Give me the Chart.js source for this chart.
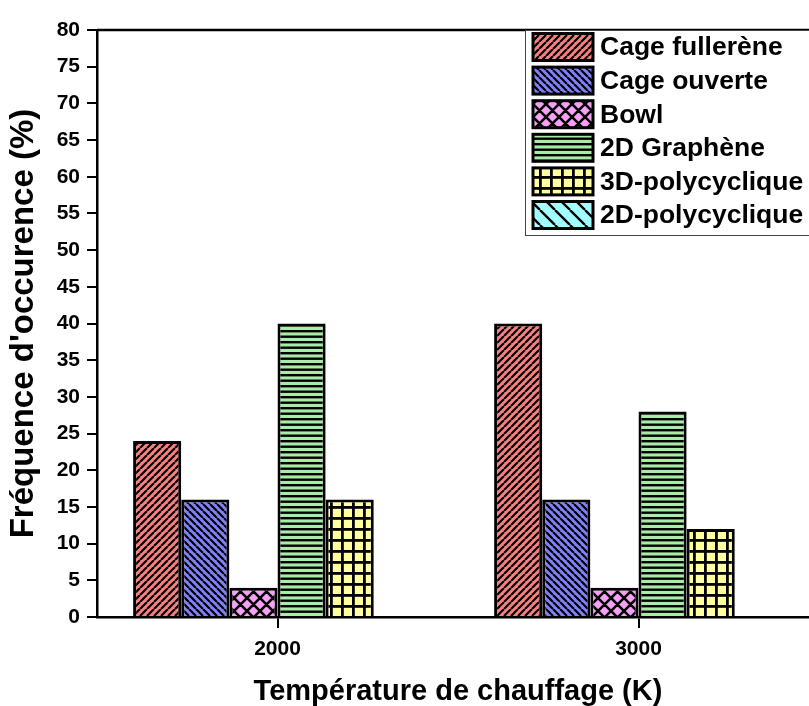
<!DOCTYPE html>
<html>
<head>
<meta charset="utf-8">
<script src="https://cdn.jsdelivr.net/npm/chart.js@4.4.0/dist/chart.umd.min.js"></script>
<style>
  html, body { margin: 0; padding: 0; background: #fff; overflow: hidden; }
  canvas { display: block; }
</style>
</head>
<body>
<canvas id="freqChart" width="830" height="706"></canvas>
<script>
// categories (heating temperature, K)
const temperatures = ['2000', '3000'];
const seriesNames = ['Cage fullerène', 'Cage ouverte', 'Bowl', '2D Graphène', '3D-polycyclique', '2D-polycyclique'];

// frequency of occurrence (%)
const cageFullerene = [24, 40];
const cageOuverte = [16, 16];
const bowl = [4, 4];
const graphene2D = [40, 28];
const polycyclique3D = [16, 12];
const polycyclique2D = [0, 0];

const yMin = 0, yMax = 80, yStep = 5;

const FONT = "'Liberation Sans', Arial, sans-serif";

// hatch fills
const makePattern = (kind, fill, s, lw) => {
    const c = document.createElement('canvas');
    c.width = s; c.height = s;
    const g = c.getContext('2d');
    g.fillStyle = fill;
    g.fillRect(0, 0, s, s);
    g.strokeStyle = '#000';
    g.fillStyle = '#000';
    g.lineWidth = lw;
    g.beginPath();
    if (kind === 'fwd' || kind === 'cross') {
        for (let k = -1; k <= 1; k++) { g.moveTo(k * s, s); g.lineTo(k * s + s, 0); }
    }
    if (kind === 'back' || kind === 'cross') {
        for (let k = -1; k <= 1; k++) { g.moveTo(k * s, 0); g.lineTo(k * s + s, s); }
    }
    g.stroke();
    if (kind === 'horiz') {
        g.fillRect(0, 0, s, lw);
        g.fillRect(0, s / 2, s, lw);
    }
    if (kind === 'grid') {
        g.fillRect(0, 0, s, lw);
        g.fillRect(0, 0, lw, s);
    }
    return g.createPattern(c, 'repeat');
};

const fills = [
    makePattern('fwd', '#f88080', 7, 2.2),
    makePattern('back', '#8080f8', 7, 2.2),
    makePattern('cross', '#f8a0f8', 13, 2.6),
    makePattern('horiz', '#a8eca8', 11, 2.4),
    makePattern('grid', '#ffffa0', 11, 2.8),
    makePattern('back', '#a0ffff', 15, 2.4)
];

const values = [cageFullerene, cageOuverte, bowl, graphene2D, polycyclique3D, polycyclique2D];

// frame top line + legend box
const framePlugin = {
    id: 'frame',
    afterDraw(chart) {
        const ctx = chart.ctx;
        const a = chart.chartArea;
        ctx.save();
        ctx.strokeStyle = '#000';
        ctx.lineWidth = 2.5;
        ctx.beginPath();
        ctx.moveTo(a.left, a.top);
        ctx.lineTo(a.right, a.top);
        ctx.stroke();

        // legend
        ctx.fillStyle = '#fff';
        ctx.fillRect(525, 30, 300, 205);
        ctx.strokeStyle = '#444';
        ctx.lineWidth = 1;
        ctx.strokeRect(525.5, 30.5, 300, 205);
        ctx.font = 'bold 26.5px ' + FONT;
        ctx.textBaseline = 'middle';
        chart.data.datasets.forEach((ds, i) => {
            const top = 33.5 + i * 33.6;
            ctx.fillStyle = ds.backgroundColor;
            ctx.fillRect(533, top, 60, 27);
            ctx.strokeStyle = '#000';
            ctx.lineWidth = 3;
            ctx.strokeRect(533, top, 60, 27);
            ctx.fillStyle = '#000';
            ctx.fillText(ds.label, 600, top + 14.5);
        });
        ctx.restore();
    }
};

new Chart(document.getElementById('freqChart'), {
    type: 'bar',
    data: {
        labels: temperatures,
        datasets: seriesNames.map((name, i) => ({
            label: name,
            data: values[i],
            backgroundColor: fills[i],
            borderColor: '#000',
            borderWidth: 3
        }))
    },
    options: {
        responsive: false,
        animation: false,
        devicePixelRatio: 1,
        layout: { padding: { top: 30, right: 11, left: 0, bottom: 0 } },
        datasets: { bar: { barPercentage: 1, categoryPercentage: 0.8 } },
        plugins: { legend: { display: false }, tooltip: { enabled: false } },
        scales: {
            x: {
                z: 1,
                afterFit: s => { s.height = 89; },
                grid: { display: true, drawOnChartArea: false, drawTicks: true, tickLength: 11, color: '#000', lineWidth: 2, offset: false },
                border: { display: true, color: '#000', width: 2.5 },
                ticks: { color: '#000', padding: 9, font: { family: FONT, size: 21, weight: 'bold' } },
                title: {
                    display: true,
                    text: 'Température de chauffage (K)',
                    color: '#000',
                    padding: { top: 0, bottom: 0 },
                    font: { family: FONT, size: 29, weight: 'bold', lineHeight: 1 }
                }
            },
            y: {
                min: yMin,
                max: yMax,
                afterFit: s => { s.width = 97; },
                grid: { display: true, drawOnChartArea: false, drawTicks: true, tickLength: 10, color: '#000', lineWidth: 2 },
                border: { display: true, color: '#000', width: 2.5 },
                ticks: { stepSize: yStep, color: '#000', padding: 7, font: { family: FONT, size: 21, weight: 'bold' } },
                title: {
                    display: true,
                    text: "Fréquence d'occurence (%)",
                    color: '#000',
                    padding: { top: 7, bottom: 0 },
                    font: { family: FONT, size: 33, weight: 'bold', lineHeight: 1 }
                }
            }
        }
    },
    plugins: [framePlugin]
});
</script>
</body>
</html>
